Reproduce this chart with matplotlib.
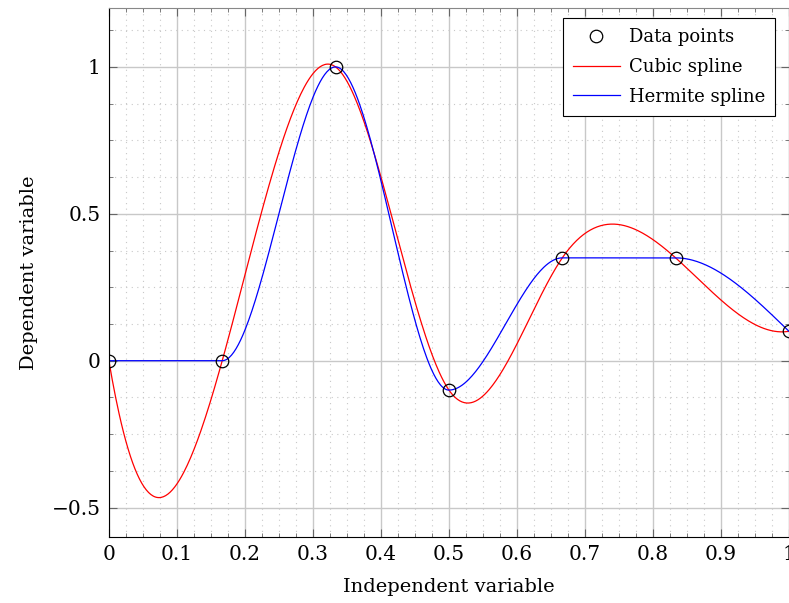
import numpy as np
import matplotlib.pyplot as plt
from matplotlib.ticker import MultipleLocator

# data points
x_pts = [0, 1/6, 1/3, 1/2, 2/3, 5/6, 1]
y_pts = [0, 0, 1, -0.1, 0.35, 0.35, 0.1]


def cubic_spline(x, y, xq):
    """Not-a-knot cubic spline (MATLAB spline default)."""
    x = np.asarray(x, float); y = np.asarray(y, float)
    n = len(x)
    h = np.diff(x)
    A = np.zeros((n, n)); b = np.zeros(n)
    # not-a-knot end conditions on second derivatives M
    A[0, 0] = h[1]; A[0, 1] = -(h[0] + h[1]); A[0, 2] = h[0]
    A[-1, -3] = h[-1]; A[-1, -2] = -(h[-2] + h[-1]); A[-1, -1] = h[-2]
    for i in range(1, n - 1):
        A[i, i - 1] = h[i - 1]
        A[i, i] = 2 * (h[i - 1] + h[i])
        A[i, i + 1] = h[i]
        b[i] = 6 * ((y[i + 1] - y[i]) / h[i] - (y[i] - y[i - 1]) / h[i - 1])
    M = np.linalg.solve(A, b)
    idx = np.clip(np.searchsorted(x, xq) - 1, 0, n - 2)
    t0 = x[idx]; t1 = x[idx + 1]; hh = h[idx]
    a = t1 - xq; c = xq - t0
    return (M[idx] * a**3 / (6 * hh) + M[idx + 1] * c**3 / (6 * hh)
            + (y[idx] / hh - M[idx] * hh / 6) * a
            + (y[idx + 1] / hh - M[idx + 1] * hh / 6) * c)


def pchip(x, y, xq):
    """Shape-preserving piecewise cubic Hermite interpolation."""
    x = np.asarray(x, float); y = np.asarray(y, float)
    n = len(x)
    h = np.diff(x)
    delta = np.diff(y) / h
    d = np.zeros(n)
    for k in range(1, n - 1):
        if delta[k - 1] * delta[k] > 0:
            w1 = 2 * h[k] + h[k - 1]
            w2 = h[k] + 2 * h[k - 1]
            d[k] = (w1 + w2) / (w1 / delta[k - 1] + w2 / delta[k])

    def end_slope(h0, h1, d0, d1):
        s = ((2 * h0 + h1) * d0 - h0 * d1) / (h0 + h1)
        if np.sign(s) != np.sign(d0):
            s = 0.0
        elif np.sign(d0) != np.sign(d1) and abs(s) > abs(3 * d0):
            s = 3 * d0
        return s

    d[0] = end_slope(h[0], h[1], delta[0], delta[1])
    d[-1] = end_slope(h[-1], h[-2], delta[-1], delta[-2])
    idx = np.clip(np.searchsorted(x, xq) - 1, 0, n - 2)
    hh = h[idx]
    t = (xq - x[idx]) / hh
    h00 = 2 * t**3 - 3 * t**2 + 1
    h10 = t**3 - 2 * t**2 + t
    h01 = -2 * t**3 + 3 * t**2
    h11 = t**3 - t**2
    return h00 * y[idx] + h10 * hh * d[idx] + h01 * y[idx + 1] + h11 * hh * d[idx + 1]


xq = np.linspace(0, 1, 600)
y_cubic = cubic_spline(x_pts, y_pts, xq)
y_herm = pchip(x_pts, y_pts, xq)

plt.rcParams['font.family'] = ['DejaVu Serif']
plt.rcParams['mathtext.fontset'] = 'dejavuserif'

fig = plt.figure(figsize=(7.89, 6.03), dpi=100)
ax = fig.add_axes([0.138, 0.1095, 0.862, 0.877])

ax.plot(x_pts, y_pts, 'o', mfc='none', mec='black', ms=9, mew=0.9,
        label='Data points', zorder=5)
ax.plot(xq, y_cubic, color='red', lw=0.9, label='Cubic spline')
ax.plot(xq, y_herm, color='blue', lw=0.9, label='Hermite spline')

ax.set_xlim(0, 1)
ax.set_ylim(-0.6, 1.2)
ax.xaxis.set_minor_locator(MultipleLocator(0.025))
ax.yaxis.set_minor_locator(MultipleLocator(0.125))
ax.set_xticks(np.arange(0, 1.01, 0.1))
ax.set_xticklabels(['0', '0.1', '0.2', '0.3', '0.4', '0.5', '0.6', '0.7', '0.8', '0.9', '1'])
ax.set_yticks([-0.5, 0, 0.5, 1])
ax.set_yticklabels(['\u22120.5', '0', '0.5', '1'])

ax.grid(which='major', color='#c8c8c8', lw=1.0)
ax.grid(which='minor', color='#c8c8c8', lw=0.8, ls=(0, (1, 4)))
ax.set_axisbelow(True)

ax.tick_params(which='both', direction='in', top=True, right=True,
               color='#666666', labelsize=14.5, pad=6)
ax.tick_params(which='major', length=6, width=0.8)
ax.tick_params(which='minor', length=3, width=0.6)
for s in ['left', 'bottom']:
    ax.spines[s].set_color('black')
ax.spines['top'].set_color('#888888')
ax.spines['right'].set_color('#888888')

ax.set_xlabel('Independent variable', fontsize=14, labelpad=10)
ax.set_ylabel('Dependent variable', fontsize=14, labelpad=10)

leg = ax.legend(loc='upper right', bbox_to_anchor=(0.979, 0.981), borderaxespad=0,
                fontsize=13, fancybox=False, framealpha=1, edgecolor='black',
                handlelength=2.6, borderpad=0.55, labelspacing=0.65, handletextpad=0.5)
leg.get_frame().set_linewidth(0.8)

fig.savefig('out.png', dpi=100)
